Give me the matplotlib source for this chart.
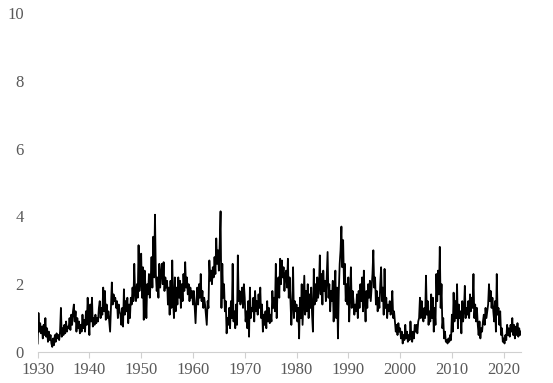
#!/usr/bin/env python3
import numpy as np
import matplotlib
matplotlib.use("Agg")
import matplotlib.pyplot as plt

# values, 6 points per year (every two months)
v1930s = [
    0.25, 1.15, 0.6, 0.85, 0.55, 0.75,
    0.4, 0.8, 0.5, 1.0, 0.45, 0.7,
    0.3, 0.6, 0.35, 0.5, 0.25, 0.15,
    0.4, 0.2, 0.5, 0.3, 0.55, 0.4,
    0.5, 0.35, 0.6, 1.3, 0.45, 0.7,
    0.5, 0.8, 0.55, 0.9, 0.6, 0.75,
    0.7, 1.0, 0.65, 1.1, 0.8, 1.2,
    1.4, 0.9, 1.2, 0.6, 1.0, 0.7,
    0.9, 0.55, 0.8, 0.6, 1.1, 0.7,
    0.95, 0.6, 1.2, 0.8, 1.6, 1.0,
]
v1940s = [
    0.5, 1.4, 0.9, 1.6, 0.75, 1.0,
    0.8, 1.1, 0.85, 1.0, 0.9, 1.3,
    1.5, 1.0, 1.3, 1.1, 1.9, 1.2,
    1.8, 0.95, 1.4, 1.0, 1.2, 0.9,
    0.6, 1.3, 2.05, 1.4, 1.7, 1.5,
    1.6, 1.3, 1.5, 1.0, 1.4, 1.2,
    1.1, 0.8, 1.3, 0.75, 1.85, 1.1,
    1.5, 1.2, 1.6, 0.85, 1.4, 1.0,
    1.6, 1.4, 1.9, 1.5, 2.6, 1.7,
    1.5, 2.0, 1.6, 3.15, 1.8, 2.2,
]
v1950s = [
    2.9, 1.6, 2.5, 0.95, 2.4, 1.9,
    1.0, 2.0, 1.7, 2.3, 1.6, 2.1,
    2.8, 1.9, 3.4, 2.2, 4.05, 2.3,
    1.8, 2.2, 1.6, 2.6, 1.9, 2.3,
    2.6, 2.0, 2.65, 1.8, 2.2, 1.9,
    2.1, 1.4, 1.9, 1.1, 2.1, 1.3,
    2.7, 1.5, 1.0, 2.2, 1.2, 1.9,
    1.4, 2.2, 1.6, 2.1, 1.3, 2.0,
    1.5, 2.3, 1.8, 2.65, 1.9, 2.2,
    1.7, 2.0, 1.5, 1.9, 1.6, 1.8,
]
v1960s = [
    1.4, 1.8, 1.3, 0.85, 1.5, 1.9,
    1.4, 2.0, 1.6, 2.3, 1.5, 1.8,
    1.3, 1.6, 1.4, 1.1, 0.8, 1.5,
    1.3, 2.7, 2.1, 2.4, 2.0, 2.5,
    2.2, 2.8, 2.3, 3.35, 2.6, 3.0,
    2.4, 3.2, 4.15, 1.3, 2.6, 1.6,
    2.0, 1.2, 1.5, 0.55, 1.0, 0.8,
    1.3, 0.7, 1.5, 1.0, 2.6, 0.9,
    1.2, 0.7, 1.4, 0.8, 2.85, 1.5,
    1.8, 1.4, 1.6, 1.9, 1.3, 2.0,
]
v1970s = [
    1.6, 0.9, 1.2, 0.7, 1.5, 0.45,
    1.9, 1.0, 1.3, 1.2, 1.6, 0.9,
    1.8, 1.2, 1.5, 1.1, 1.7, 1.3,
    1.9, 1.0, 1.4, 0.6, 1.1, 0.8,
    1.2, 0.7, 1.5, 0.9, 1.3, 0.85,
    1.1, 0.9, 1.8, 1.3, 1.6, 1.2,
    2.6, 1.0, 1.8, 2.2, 1.6, 2.75,
    2.0, 2.7, 2.2, 2.5, 1.8, 2.3,
    2.4, 1.9, 2.75, 1.6, 2.2, 1.5,
    0.8, 1.4, 2.5, 1.0, 1.5, 1.2,
]
v1980s = [
    1.4, 0.9, 1.3, 0.4, 1.6, 1.0,
    2.0, 0.8, 1.5, 2.25, 1.1, 1.8,
    1.2, 2.0, 1.0, 1.7, 1.3, 1.9,
    1.1, 0.6, 2.45, 1.4, 2.0, 1.5,
    2.2, 1.6, 1.9, 2.85, 1.7, 2.3,
    1.4, 2.4, 1.8, 2.1, 1.5, 2.2,
    2.95, 1.6, 2.0, 1.2, 1.8, 1.5,
    2.1, 0.9, 1.6, 2.4, 1.0, 1.9,
    0.4, 1.8, 2.6, 3.0, 3.7, 2.5,
    3.3, 2.0, 2.6, 1.5, 2.0, 1.4,
]
v1990s = [
    2.2, 0.9, 1.6, 2.5, 1.3, 1.8,
    1.5, 1.1, 1.4, 1.2, 1.7, 1.0,
    1.8, 1.3, 2.0, 1.5, 2.2, 1.2,
    2.4, 1.5, 0.9, 1.8, 1.3, 2.0,
    1.6, 2.1, 1.5, 1.9, 2.3, 3.0,
    1.9, 2.2, 1.4, 1.8, 1.2, 1.6,
    1.3, 2.0, 2.5, 1.5, 1.9, 1.1,
    2.45, 1.3, 1.6, 1.0, 1.4, 1.2,
    1.5, 1.1, 1.3, 1.8, 1.0, 1.2,
    0.9, 0.6, 0.8, 0.5, 0.85, 0.6,
]
v2000s = [
    0.7, 0.4, 0.6, 0.25, 0.5, 0.35,
    0.8, 0.4, 0.6, 0.3, 0.5, 0.35,
    0.9, 0.5, 0.3, 0.6, 0.4, 0.8,
    0.6, 0.8, 0.55, 0.9, 1.0, 1.6,
    1.0, 1.5, 1.1, 0.9, 1.3, 1.0,
    2.25, 1.1, 1.5, 0.8, 1.2, 0.9,
    1.7, 1.0, 1.6, 0.6, 1.3, 0.8,
    2.3, 1.5, 2.4, 1.7, 3.1, 1.3,
    2.0, 0.7, 1.0, 0.4, 0.6, 0.3,
    0.35, 0.25, 0.4, 0.3, 0.5, 0.35,
]
v2010s = [
    1.1, 0.6, 1.75, 0.9, 1.5, 1.0,
    2.0, 0.7, 1.4, 1.0, 1.2, 0.55,
    1.5, 0.9, 1.2, 1.95, 1.0, 1.3,
    1.1, 1.5, 1.0, 1.7, 1.2, 1.6,
    1.3, 2.3, 1.0, 1.4, 0.9, 1.3,
    0.8, 0.5, 0.9, 0.4, 0.7, 0.6,
    0.9, 1.1, 0.8, 1.3, 1.0, 1.2,
    1.4, 2.0, 1.5, 1.8, 1.3, 1.6,
    1.2, 0.9, 1.5, 0.6, 2.3, 1.1,
    1.3, 0.8, 1.2, 0.5, 0.7, 0.3,
]
v2020s = [
    0.4, 0.25, 0.5, 0.35, 0.8, 0.5,
    0.7, 0.45, 0.8, 0.6, 1.0, 0.5,
    0.8, 0.4, 0.75, 0.5, 0.85, 0.45,
    0.7, 0.5, 0.6,
]

start_year = 1930
x_ticks = list(range(1930, 2021, 10))
y_ticks = [0, 2, 4, 6, 8, 10]

values = v1930s + v1940s + v1950s + v1960s + v1970s + v1980s + v1990s + v2000s + v2010s + v2020s
years = start_year + np.arange(len(values)) / 6

plt.rcParams["font.family"] = ["Liberation Serif", "DejaVu Serif"]
grey = "#595959"

fig = plt.figure(figsize=(5.53, 3.83), dpi=100)
ax = fig.add_axes([0.068, 0.081, 0.874, 0.885])
ax.plot(years, values, color="black", linewidth=1.3)

ax.set_xlim(1930, years[-1])
ax.set_ylim(0, 10)
ax.set_xticks(x_ticks)
ax.set_yticks(y_ticks)

for side in ["top", "right", "left"]:
    ax.spines[side].set_visible(False)
ax.spines["bottom"].set_color("#d0d0d0")
ax.spines["bottom"].set_linewidth(0.8)

ax.tick_params(axis="x", colors="#d0d0d0", labelcolor=grey, labelsize=12,
               length=4, width=0.8, pad=3)
ax.tick_params(axis="y", length=0, labelcolor=grey, labelsize=12, pad=10)

fig.savefig("out.png", dpi=100)
